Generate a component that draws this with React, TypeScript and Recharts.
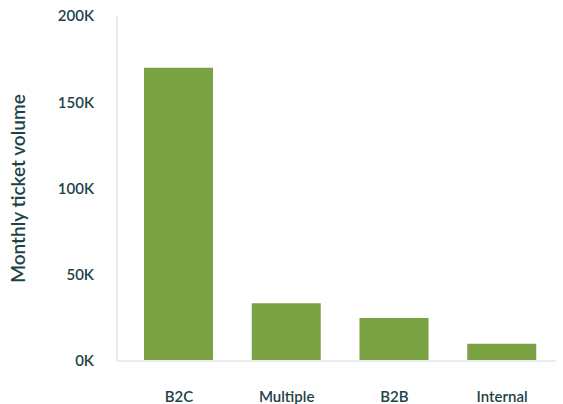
import React from "react";
import { BarChart, Bar, XAxis, YAxis } from "recharts";

const categories = ["B2C", "Multiple", "B2B", "Internal"];
const volumes = [170000, 33500, 25000, 10000];
const yTicks = [0, 50000, 100000, 150000, 200000];

const data = categories.map((c, i) => ({ name: c, value: volumes[i] }));

const TEXT = "#1c4347";
const FONT = "Lato, 'Noto Sans', sans-serif";

export default function App() {
  return (
    <div style={{ position: "absolute", left: 0, top: 0, background: "#fff" }}>
      <BarChart
        width={563}
        height={404}
        data={data}
        margin={{ top: 16, right: 7, bottom: 0, left: 0 }}
      >
        <XAxis
          dataKey="name"
          height={43}
          axisLine={{ stroke: "#e4ecf0", strokeWidth: 2 }}
          tickLine={false}
          tickMargin={24}
          padding={{ left: 8, right: 0 }}
          tick={{ fill: TEXT, fontSize: 15, fontFamily: FONT, fontWeight: 600 }}
        />
        <YAxis
          width={117}
          domain={[0, 200000]}
          ticks={yTicks}
          axisLine={{ stroke: "#e4ecf0", strokeWidth: 2 }}
          tickLine={false}
          tickMargin={17}
          tickFormatter={(v: number) => `${v / 1000}K`}
          tick={{ fill: TEXT, fontSize: 15, fontFamily: FONT, fontWeight: 600 }}
          label={{
            value: "Monthly ticket volume",
            angle: -90,
            position: "insideLeft",
            offset: 18,
            style: { fill: TEXT, fontSize: 19, fontFamily: FONT, fontWeight: 600, textAnchor: "middle" },
          }}
        />
        <Bar dataKey="value" fill="#7ba242" barSize={69} isAnimationActive={false} />
      </BarChart>
    </div>
  );
}
